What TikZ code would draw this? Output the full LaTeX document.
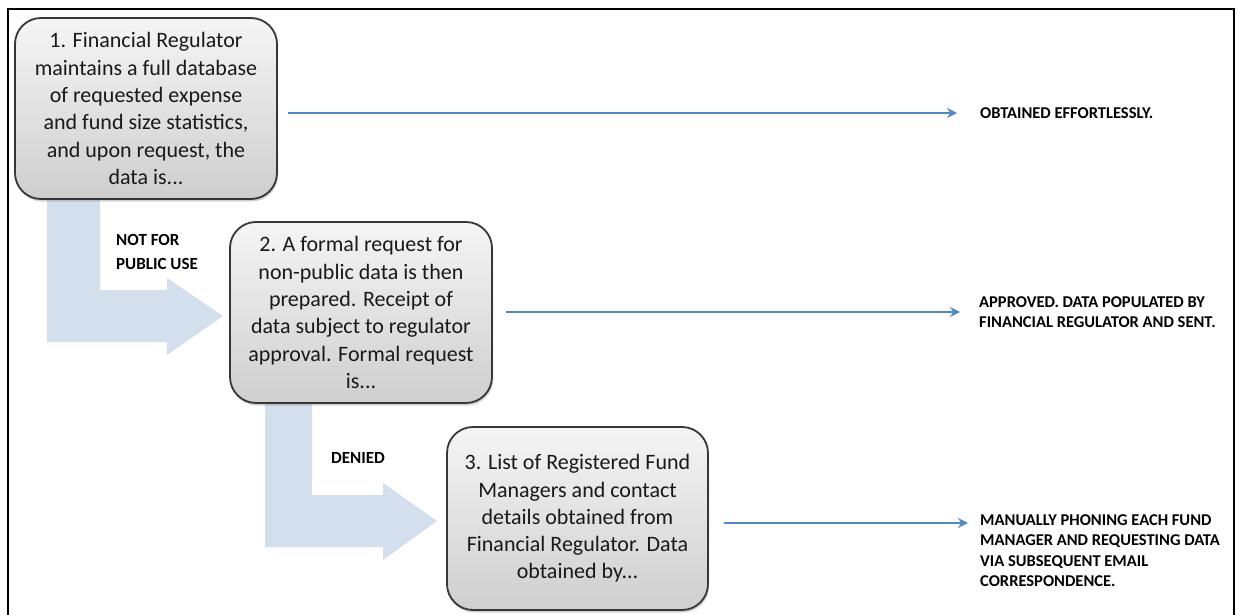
\documentclass[tikz,border=0pt]{standalone}
\usepackage{fontspec}
\setmainfont{Carlito}
\usetikzlibrary{arrows.meta,shadows}
\definecolor{boxedge}{RGB}{55,55,55}
\definecolor{flowblue}{RGB}{84,136,196}
\definecolor{bentblue}{RGB}{212,223,238}
\tikzset{
  stepbox/.style={draw=boxedge, line width=1.8pt, rounded corners=26pt,
    top color=gray!8, bottom color=gray!38, align=center, inner sep=0pt,
    font=\fontsize{22}{27.3}\selectfont, text=black!90,
    drop shadow={opacity=0.35, shadow xshift=1pt, shadow yshift=-2.5pt}},
  flow/.style={draw=flowblue, line width=2.5pt, -{Stealth[length=10pt,width=10pt]}},
  outtext/.style={anchor=west, align=left, inner sep=0pt,
    font=\fontsize{16.5}{20.5}\selectfont\bfseries, text=black},
  bentarrow/.style={fill=bentblue, draw=none},
  lbl/.style={anchor=west, align=left, inner sep=0pt,
    font=\fontsize{17}{23.5}\selectfont\bfseries, text=black}
}
\begin{document}
\begin{tikzpicture}[x=1pt,y=-1pt]
\useasboundingbox (0,0) rectangle (1237,615);
\fill[white] (0,0) rectangle (1237,615);
% frame
\draw[line width=2.8pt] (8,615) -- (8,9) -- (1234,9) -- (1234,615);
% bent block arrows
\fill[bentarrow] (47,195) -- (100,195) -- (100,290) -- (167,290) -- (167,278)
  -- (223,316) -- (167,355) -- (167,342) -- (47,342) -- cycle;
\fill[bentarrow] (265,400) -- (312,400) -- (312,495) -- (383,495) -- (383,483)
  -- (437,521) -- (383,560) -- (383,547) -- (265,547) -- cycle;
% boxes
\node[stepbox, minimum width=262pt, minimum height=181pt] (b1) at (146,108.5)
  {1. Financial Regulator\\maintains a full database\\of requested expense\\and fund size statistics,\\and upon request, the\\data is...};
\node[stepbox, minimum width=262pt, minimum height=181pt] (b2) at (361,312.5)
  {2. A formal request for\\non-public data is then\\prepared. Receipt of\\data subject to regulator\\approval. Formal request\\is...};
\node[stepbox, minimum width=261pt, minimum height=183pt] (b3) at (577.5,518.5)
  {3. List of Registered Fund\\Managers and contact\\details obtained from\\Financial Regulator. Data\\obtained by...};
% labels
\node[lbl] (l1) at (116,252) {NOT FOR\\PUBLIC USE};
\node[lbl] (l2) at (331,458) {DENIED};
% outcome texts
\node[outtext] (t1) at (980,113) {OBTAINED EFFORTLESSLY.};
\node[outtext] (t2) at (979,312) {APPROVED. DATA POPULATED BY\\FINANCIAL REGULATOR AND SENT.};
\node[outtext, anchor=north west] (t3) at (980,514) {MANUALLY PHONING EACH FUND\\MANAGER AND REQUESTING DATA\\VIA SUBSEQUENT EMAIL\\CORRESPONDENCE.};
\coordinate (e1) at (957,113);
\coordinate (e2) at (960,312);
\coordinate (e3) at (968,523);
% connectors
\draw[flow, shorten <=10pt] (b1.east |- e1) -- (e1);
\draw[flow, shorten <=13pt] (b2.east |- e2) -- (e2);
\draw[flow, shorten <=15pt] (b3.east |- e3) -- (e3);
\end{tikzpicture}
\end{document}
